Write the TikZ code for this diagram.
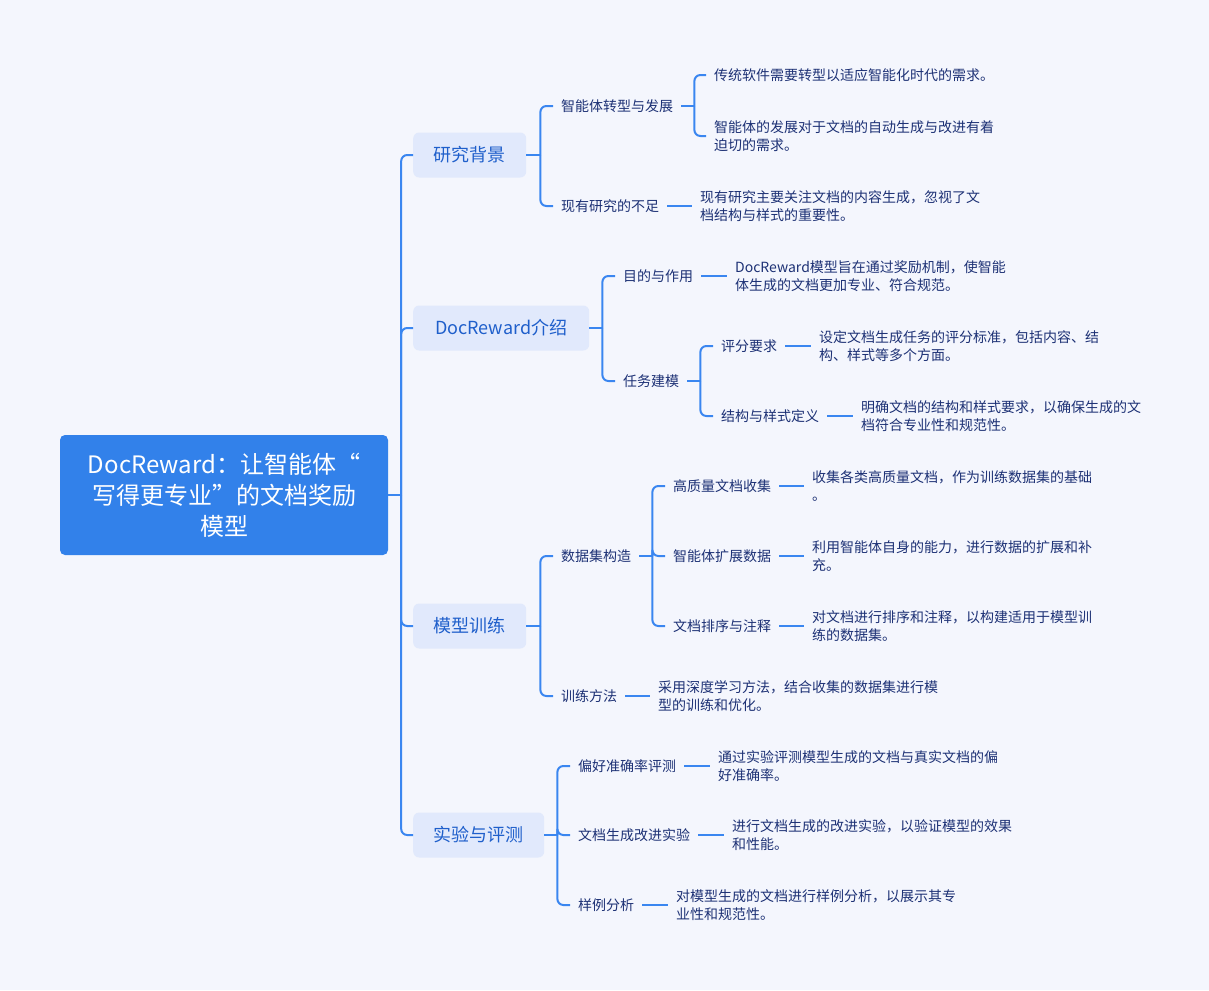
\documentclass[tikz,border=0pt]{standalone}
\usepackage{fontspec}
\setmainfont{Noto Sans CJK SC}
\usetikzlibrary{calc}
\definecolor{bgc}{HTML}{F4F6FD}
\definecolor{rootc}{HTML}{3281EA}
\definecolor{lonefill}{HTML}{E1E9FC}
\definecolor{lonetext}{HTML}{1F5FCB}
\definecolor{linec}{HTML}{3A86F0}
\definecolor{navy}{HTML}{1D3175}
\begin{document}
\begin{tikzpicture}[x=1pt,y=-1pt,
  conn/.style={draw=linec, line width=2pt, rounded corners=6pt},
  rootbox/.style={fill=rootc, rounded corners=5pt, text=white, font=\fontsize{24}{31}\selectfont, align=center, minimum width=328pt, minimum height=120pt, inner sep=0pt},
  lone/.style={fill=lonefill, rounded corners=6pt, text=lonetext, font=\fontsize{18}{22}\selectfont, minimum height=45pt, inner sep=0pt, anchor=west},
  ltwo/.style={text=navy, font=\fontsize{14}{18}\selectfont, inner xsep=8pt, inner ysep=2pt, anchor=west},
  leaf/.style={text=navy, font=\fontsize{14}{18}\selectfont, align=left, inner xsep=8pt, inner ysep=2pt, anchor=west}]
\fill[bgc] (0,0) rectangle (1209,990);
\useasboundingbox (0,0) rectangle (1209,990);

% root
\node[rootbox] (root) at (224,495) {DocReward：让智能体“\\写得更专业”的文档奖励\\模型};

% level 1
\node[lone, minimum width=113pt] (a1) at (413,155) {研究背景};
\node[lone, minimum width=176pt] (a2) at (413,328) {DocReward介绍};
\node[lone, minimum width=113pt] (a3) at (413,626) {模型训练};
\node[lone, minimum width=131pt] (a4) at (413,835) {实验与评测};

\coordinate (s0) at ($(root.east)+(13,0)$);
\draw[conn] (root.east) -- (s0);
\foreach \n in {a1,a2,a3,a4} \draw[conn] (s0) |- (\n.west);

% ---- 研究背景
\node[ltwo] (b1) at (553,106) {智能体转型与发展};
\node[ltwo] (b2) at (553,206) {现有研究的不足};
\coordinate (j1) at ($(a1.east)+(14,0)$);
\draw[conn] (a1.east) -- (j1);
\foreach \n in {b1,b2} \draw[conn] (j1) |- (\n.west);

\node[leaf] (c1) at (706,75) {传统软件需要转型以适应智能化时代的需求。};
\node[leaf] (c2) at (706,136) {智能体的发展对于文档的自动生成与改进有着\\迫切的需求。};
\coordinate (k1) at ($(b1.east)+(13,0)$);
\draw[conn] (b1.east) -- (k1);
\foreach \n in {c1,c2} \draw[conn] (k1) |- (\n.west);

\node[leaf] (c3) at (692,206) {现有研究主要关注文档的内容生成，忽视了文\\档结构与样式的重要性。};
\draw[conn] (b2.east) -- (c3.west);

% ---- DocReward介绍
\node[ltwo] (b3) at (615,276) {目的与作用};
\node[ltwo] (b4) at (615,381) {任务建模};
\coordinate (j2) at ($(a2.east)+(13,0)$);
\draw[conn] (a2.east) -- (j2);
\foreach \n in {b3,b4} \draw[conn] (j2) |- (\n.west);

\node[leaf] (c4) at (727,276) {DocReward模型旨在通过奖励机制，使智能\\体生成的文档更加专业、符合规范。};
\draw[conn] (b3.east) -- (c4.west);

\node[ltwo] (b5) at (713,346) {评分要求};
\node[ltwo] (b6) at (713,416) {结构与样式定义};
\coordinate (k2) at ($(b4.east)+(13,0)$);
\draw[conn] (b4.east) -- (k2);
\foreach \n in {b5,b6} \draw[conn] (k2) |- (\n.west);

\node[leaf] (c5) at (811,346) {设定文档生成任务的评分标准，包括内容、结\\构、样式等多个方面。};
\draw[conn] (b5.east) -- (c5.west);
\node[leaf] (c6) at (853,416) {明确文档的结构和样式要求，以确保生成的文\\档符合专业性和规范性。};
\draw[conn] (b6.east) -- (c6.west);

% ---- 模型训练
\node[ltwo] (b7) at (553,556) {数据集构造};
\node[ltwo] (b11) at (553,696) {训练方法};
\coordinate (j3) at ($(a3.east)+(14,0)$);
\draw[conn] (a3.east) -- (j3);
\foreach \n in {b7,b11} \draw[conn] (j3) |- (\n.west);

\node[ltwo] (b8) at (665,486) {高质量文档收集};
\node[ltwo] (b9) at (665,556) {智能体扩展数据};
\node[ltwo] (b10) at (665,626) {文档排序与注释};
\coordinate (k3) at ($(b7.east)+(13,0)$);
\draw[conn] (b7.east) -- (k3);
\foreach \n in {b8,b9,b10} \draw[conn] (k3) |- (\n.west);

\node[leaf] (c7) at (804,486) {收集各类高质量文档，作为训练数据集的基础\\。};
\draw[conn] (b8.east) -- (c7.west);
\node[leaf] (c8) at (804,556) {利用智能体自身的能力，进行数据的扩展和补\\充。};
\draw[conn] (b9.east) -- (c8.west);
\node[leaf] (c9) at (804,626) {对文档进行排序和注释，以构建适用于模型训\\练的数据集。};
\draw[conn] (b10.east) -- (c9.west);

\node[leaf] (c10) at (650,696) {采用深度学习方法，结合收集的数据集进行模\\型的训练和优化。};
\draw[conn] (b11.east) -- (c10.west);

% ---- 实验与评测
\node[ltwo] (b12) at (570,766) {偏好准确率评测};
\node[ltwo] (b13) at (570,835) {文档生成改进实验};
\node[ltwo] (b14) at (570,905) {样例分析};
\coordinate (j4) at ($(a4.east)+(13,0)$);
\draw[conn] (a4.east) -- (j4);
\foreach \n in {b12,b13,b14} \draw[conn] (j4) |- (\n.west);

\node[leaf] (c11) at (710,766) {通过实验评测模型生成的文档与真实文档的偏\\好准确率。};
\draw[conn] (b12.east) -- (c11.west);
\node[leaf] (c12) at (724,835) {进行文档生成的改进实验，以验证模型的效果\\和性能。};
\draw[conn] (b13.east) -- (c12.west);
\node[leaf] (c13) at (668,905) {对模型生成的文档进行样例分析，以展示其专\\业性和规范性。};
\draw[conn] (b14.east) -- (c13.west);
\end{tikzpicture}
\end{document}
